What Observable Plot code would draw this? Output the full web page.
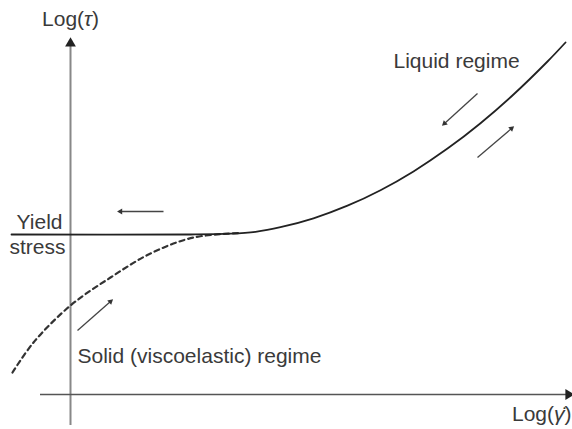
<!DOCTYPE html>
<html>
<head>
<meta charset="utf-8">
<script src="https://cdn.jsdelivr.net/npm/d3@7"></script>
<script src="https://cdn.jsdelivr.net/npm/@observablehq/plot@0.6"></script>
<style>
  body { margin: 0; background: #fff; }
</style>
</head>
<body>
<div id="chart"></div>
<script>
// Schematic flow curve of a yield-stress fluid: log stress vs log shear rate (arbitrary units)

// Solid line: plateau at the yield stress, then the liquid branch
const solidRate   = [-1.475, 3.0, 4.0,  4.625,  5.25,   6.075, 6.925, 7.75,   8.575,  9.425,  10.25,  11.075, 11.925, 12.375];
const solidStress = [4.0,    4.0, 4.02, 4.0675, 4.1825, 4.405, 4.72,  5.1075, 5.5775, 6.1475, 6.7825, 7.5,    8.325,  8.8];

// Dashed line: solid (viscoelastic) branch rising towards the yield stress
const dashedRate   = [-1.45, -0.925, 0.0,   1.0,   2.0,   3.075, 4.25];
const dashedStress = [0.55,  1.3,    2.225, 2.925, 3.525, 3.925, 4.035];

// Direction arrows (tail -> head)
const arrowFromRate   = [2.325, 0.175, 10.175, 10.175];
const arrowFromStress = [4.575, 1.6,   7.525,  5.925];
const arrowToRate     = [1.25,  1.0,   9.35,   11.025];
const arrowToStress   = [4.575, 2.325, 6.775,  6.65];

// Annotations to the left of the stress axis (right-aligned)
const leftLabelText   = ["Yield", "stress"];
const leftLabelRate   = [-0.2, -0.125];
const leftLabelStress = [4.15, 3.525];

// Annotations inside the plot (left-aligned)
const regimeLabelText   = ["Liquid regime", "Solid (viscoelastic) regime"];
const regimeLabelRate   = [8.075, 0.175];
const regimeLabelStress = [8.175, 0.8];

// Axis titles
const yTitle = {t: "Log(τ)", x: 0, y: 9.225};
const xTitle = {t: "Log(γ̇)", x: 12.525, y: -0.65};

// Hand-drawn axes through the origin
const xAxisExtent = [-0.75, 12.45];
const yAxisExtent = [-0.775, 8.775];

const solid = solidRate.map((x, i) => ({x, y: solidStress[i]}));
const dashed = dashedRate.map((x, i) => ({x, y: dashedStress[i]}));
const arrows = arrowFromRate.map((x1, i) => ({
  x1, y1: arrowFromStress[i], x2: arrowToRate[i], y2: arrowToStress[i]
}));
const leftLabels = leftLabelText.map((t, i) => ({t, x: leftLabelRate[i], y: leftLabelStress[i]}));
const regimeLabels = regimeLabelText.map((t, i) => ({t, x: regimeLabelRate[i], y: regimeLabelStress[i]}));

const headAngle = d => Math.atan2(d.x2 - d.x1, d.y2 - d.y1) * 180 / Math.PI;
const textStyle = {x: "x", y: "y", text: "t", lineAnchor: "bottom", fill: "#3a3a3a", fontSize: 21};

const chart = Plot.plot({
  width: 572,
  height: 429,
  margin: 0,
  x: {domain: [-1.75, 12.55], axis: null},
  y: {domain: [-0.875, 9.85], axis: null},
  style: {
    fontFamily: "'Liberation Sans', Arial, Helvetica, sans-serif",
    fontSize: "21px",
    background: "#fff",
    color: "#333"
  },
  marks: [
    // axes
    Plot.ruleX([0], {y1: yAxisExtent[0], y2: yAxisExtent[1], stroke: "#888", strokeWidth: 2}),
    Plot.ruleY([0], {x1: xAxisExtent[0], x2: xAxisExtent[1], stroke: "#555", strokeWidth: 1.5}),
    Plot.dot([{x: 0, y: yAxisExtent[1]}], {x: "x", y: "y", symbol: "triangle", r: 4, fill: "#222", stroke: null, rotate: 0}),
    Plot.dot([{x: xAxisExtent[1], y: 0}], {x: "x", y: "y", symbol: "triangle", r: 4, fill: "#222", stroke: null, rotate: 90}),

    // flow curves
    Plot.line(dashed, {x: "x", y: "y", curve: "catmull-rom", stroke: "#333", strokeWidth: 2.2, strokeDasharray: "5,4"}),
    Plot.line(solid, {x: "x", y: "y", curve: "catmull-rom", stroke: "#222", strokeWidth: 1.8}),

    // direction arrows
    Plot.link(arrows, {x1: "x1", y1: "y1", x2: "x2", y2: "y2", stroke: "#444", strokeWidth: 1.3}),
    Plot.dot(arrows, {x: "x2", y: "y2", symbol: "triangle", r: 2.2, fill: "#333", stroke: null, rotate: headAngle}),

    // labels
    Plot.text(leftLabels, {...textStyle, textAnchor: "end"}),
    Plot.text(regimeLabels, {...textStyle, textAnchor: "start"}),
    Plot.text([yTitle], {...textStyle, textAnchor: "middle"}),
    Plot.text([xTitle], {...textStyle, textAnchor: "end"})
  ]
});

// Set the Greek symbols in the axis titles in italics
d3.select(chart).selectAll("text").each(function() {
  const s = this.textContent;
  if (!/[τγ]/.test(s)) return;
  const el = d3.select(this);
  el.text(null);
  s.split(/([τγ]\u0307?)/).filter(p => p).forEach(p => {
    const t = el.append("tspan").text(p);
    if (/[τγ]/.test(p)) t.attr("font-style", "italic");
  });
});

document.getElementById("chart").append(chart);
</script>
</body>
</html>
